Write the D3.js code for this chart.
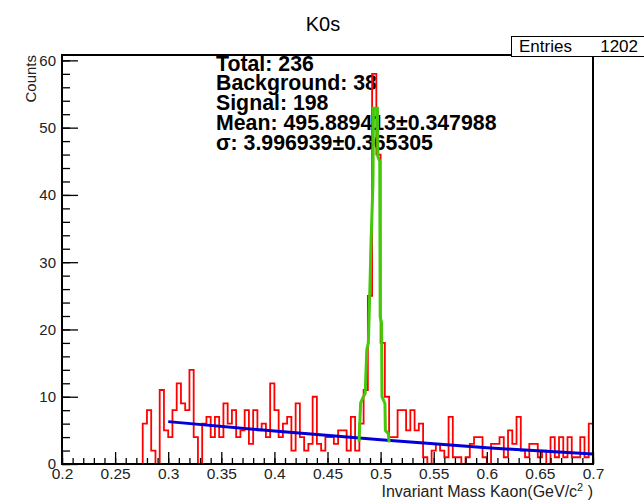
<!DOCTYPE html>
<html>
<head>
<meta charset="utf-8">
<script src="https://cdn.jsdelivr.net/npm/d3@7"></script>
<style>
  body { margin: 0; background: #fff; }
  svg { display: block; font-family: "Liberation Sans", Arial, Helvetica, sans-serif; }
</style>
</head>
<body>
<script>
// histogram: 125 bins of 0.004 from 0.2 to 0.7
const binLow = 0.2
const binWidth = 0.004
const counts = [
  0, 0, 0, 0, 0, 0, 0, 0, 0, 0,
  0, 0, 0, 0, 0, 0, 0, 0, 0, 6,
  8, 2, 0, 11, 5, 4, 8, 12, 9, 8,
  14, 4, 0, 6, 7, 4, 7, 4, 9, 6,
  8, 4, 5, 8, 3, 8, 5, 6, 4, 12,
  8, 4, 6, 7, 2, 9, 4, 2, 3, 10,
  3, 2, 4, 4, 3, 5, 5, 2, 7, 2,
  6, 11, 25, 58, 46, 18, 10, 4, 4, 8,
  8, 5, 8, 5, 6, 1, 0, 2, 3, 2,
  1, 7, 1, 1, 0, 1, 3, 4, 4, 1,
  0, 3, 3, 4, 1, 5, 3, 7, 2, 1,
  3, 3, 1, 2, 0, 4, 1, 4, 1, 4,
  1, 1, 4, 1, 6
]

// background fit (blue)
const bgX = [0.3, 0.4, 0.5, 0.6, 0.7]
const bgY = [6.3, 4.9, 3.6, 2.4, 1.5]

// signal + background fit (green)
const sigX = [0.4797, 0.4812, 0.4838, 0.4855, 0.4870, 0.4885, 0.4903, 0.4910, 0.4928, 0.4933,
              0.4970, 0.4974, 0.4992, 0.4996, 0.5009, 0.5013, 0.5041, 0.5045, 0.5073, 0.5080]
const sigY = [3.3, 9.1, 10.0, 10.5, 17.0, 18.0, 28.4, 33.0, 41.7, 52.9,
              52.9, 45.7, 45.0, 21.9, 21.0, 10.0, 9.0, 5.0, 4.5, 3.2]

const xTicks = [0.2, 0.25, 0.3, 0.35, 0.4, 0.45, 0.5, 0.55, 0.6, 0.65, 0.7]
const xTickLabels = ["0.2", "0.25", "0.3", "0.35", "0.4", "0.45", "0.5", "0.55", "0.6", "0.65", "0.7"]
const yTicks = [0, 10, 20, 30, 40, 50, 60]
const yTickLabels = ["0", "10", "20", "30", "40", "50", "60"]

const statLines = ["Total: 236", "Background: 38", "Signal: 198",
                   "Mean: 495.889413\u00b10.347988", "\u03c3: 3.996939\u00b10.365305"]
const entries = "1202"

const W = 644, H = 502
const svg = d3.select('body').append('svg')
    .attr('width', W)
    .attr('height', H)
    .style('background', '#fff')

const x = d3.scaleLinear().domain([0.2, 0.7]).range([62, 593])
const y = d3.scaleLinear().domain([0, 60.8]).range([464, 55])

svg.append('clipPath').attr('id', 'frame')
  .append('rect')
    .attr('x', 62).attr('y', 55)
    .attr('width', 531).attr('height', 409)

// title
svg.append('text')
    .attr('x', 323)
    .attr('y', 31)
    .attr('text-anchor', 'middle')
    .style('font-size', '20px')
    .text('K0s')

// fit results text
svg.append('g').selectAll('text')
  .data(statLines)
  .join('text')
    .attr('x', 216)
    .attr('y', (d, i) => 70.5 + i * 19.9)
    .style('font-size', '21.3px')
    .style('font-weight', 'bold')
    .text(d => d)

// histogram outline
let pts = counts.map((c, i) => [binLow + i * binWidth, c])
pts.push([binLow + counts.length * binWidth, counts[counts.length - 1]])
const step = d3.line()
    .x(d => x(d[0]))
    .y(d => y(d[1]))
    .curve(d3.curveStepAfter)

svg.append('path')
    .attr('clip-path', 'url(#frame)')
    .attr('d', step(pts))
    .attr('fill', 'none')
    .attr('stroke', '#ff0000')
    .attr('stroke-width', 1.8)

const line = d3.line()
    .x(d => x(d[0]))
    .y(d => y(d[1]))

svg.append('path')
    .attr('clip-path', 'url(#frame)')
    .attr('d', line(bgX.map((v, i) => [v, bgY[i]])))
    .attr('fill', 'none')
    .attr('stroke', '#0000d8')
    .attr('stroke-width', 3)

svg.append('path')
    .attr('clip-path', 'url(#frame)')
    .attr('d', line(sigX.map((v, i) => [v, sigY[i]])))
    .attr('fill', 'none')
    .attr('stroke', '#44c80a')
    .attr('stroke-width', 3)

// axes, ticks pointing inward
const minorX = d3.range(20, 71).map(d => d / 100)
const minorY = d3.range(0, 61, 2)

svg.append('g')
    .attr('transform', 'translate(0,464)')
    .call(d3.axisBottom(x).tickValues(minorX).tickSize(-6).tickFormat(''))
    .call(g => g.select('.domain').remove())

svg.append('g')
    .attr('transform', 'translate(0,464)')
    .call(d3.axisBottom(x).tickValues(xTicks).tickSize(-12).tickPadding(4)
          .tickFormat((d, i) => xTickLabels[i]))
    .call(g => g.select('.domain').remove())
    .call(g => g.selectAll('text').attr('y', 4).attr('dy', '0.71em')
          .style('font-size', '15.5px').attr('fill', '#222'))

svg.append('g')
    .attr('transform', 'translate(62,0)')
    .call(d3.axisLeft(y).tickValues(minorY).tickSize(-8).tickFormat(''))
    .call(g => g.select('.domain').remove())

svg.append('g')
    .attr('transform', 'translate(62,0)')
    .call(d3.axisLeft(y).tickValues(yTicks).tickSize(-16).tickPadding(6)
          .tickFormat((d, i) => yTickLabels[i]))
    .call(g => g.select('.domain').remove())
    .call(g => g.selectAll('text').style('font-size', '15px').attr('fill', '#222'))

svg.selectAll('.tick line').attr('stroke', '#000').attr('stroke-width', 1.3)
svg.selectAll('g text').style('font-family', '"Liberation Sans", Arial, sans-serif')

// frame
svg.append('rect')
    .attr('x', 62).attr('y', 55)
    .attr('width', 531).attr('height', 409)
    .attr('fill', 'none')
    .attr('stroke', '#000')
    .attr('stroke-width', 2)

// axis titles
svg.append('text')
    .attr('transform', 'translate(36,55) rotate(-90)')
    .attr('text-anchor', 'end')
    .style('font-size', '15px')
    .attr('fill', '#222')
    .text('Counts')

const xt = svg.append('text')
    .attr('x', 593)
    .attr('y', 497)
    .attr('text-anchor', 'end')
    .style('font-size', '16px')
    .attr('fill', '#222')
xt.append('tspan').text('Invariant Mass Kaon(GeV/c')
xt.append('tspan').attr('dy', -6).style('font-size', '11px').text('2')
xt.append('tspan').attr('dy', 6).text(' )')

// entries box
svg.append('rect')
    .attr('x', 511.5).attr('y', 36.5)
    .attr('width', 140).attr('height', 20)
    .attr('fill', '#fff')
    .attr('stroke', '#000')
svg.append('text')
    .attr('x', 519).attr('y', 52)
    .style('font-size', '17px')
    .text('Entries')
svg.append('text')
    .attr('x', 638).attr('y', 52)
    .attr('text-anchor', 'end')
    .style('font-size', '17px')
    .text(entries)
</script>
</body>
</html>
